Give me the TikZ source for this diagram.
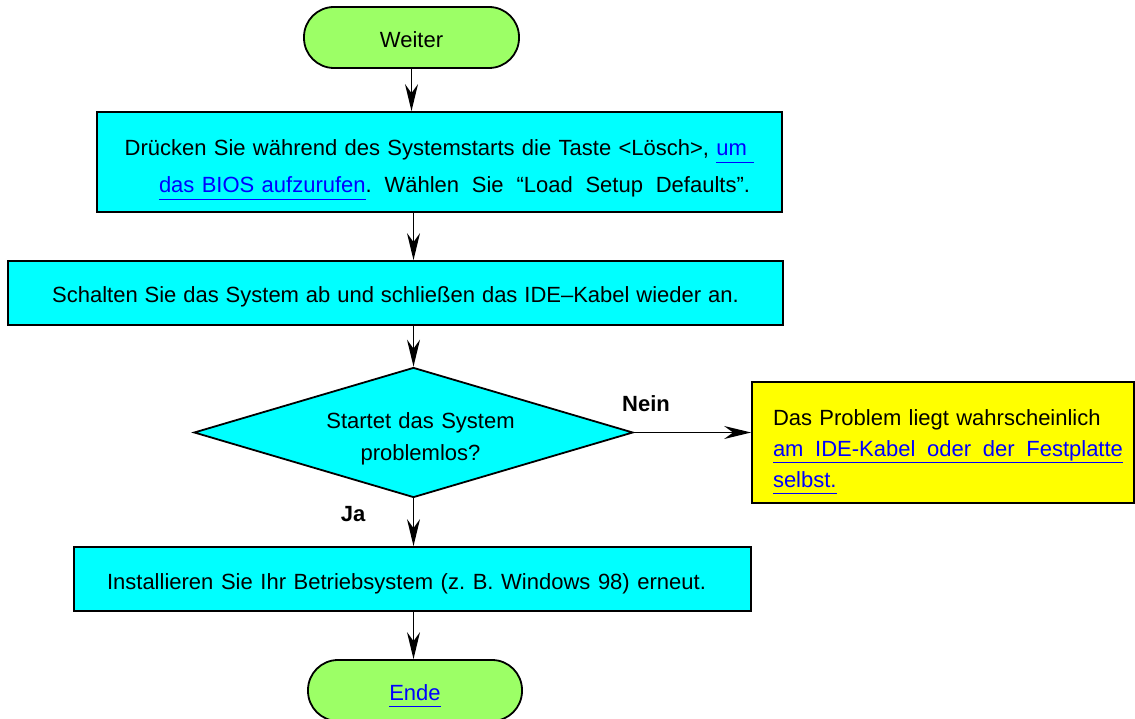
\documentclass[tikz,border=0pt]{standalone}
\usepackage{fontspec}
\setmainfont{Liberation Sans}
\usetikzlibrary{shapes.geometric,arrows.meta}
\definecolor{termgreen}{HTML}{9CFF66}
\definecolor{boxcyan}{HTML}{00FFFF}
\definecolor{noteyellow}{HTML}{FFFF00}
\definecolor{linkblue}{HTML}{0000FF}
\newcommand\lnk[1]{{\color{linkblue}\underline{#1\rule[-0.2em]{0pt}{0.2em}}}}
\frenchspacing
\tikzset{
  base/.style={draw=black, line width=1.8pt, inner sep=0pt, font=\fontsize{22}{26}\selectfont},
  term/.style={base, fill=termgreen, rounded corners=30pt, text height=20pt, text depth=0pt},
  stepbox/.style={base, fill=boxcyan, rectangle},
  oneline/.style={text height=20pt, text depth=0pt},
  decision/.style={base, fill=boxcyan, diamond, shape aspect=3.377},
  notebox/.style={base, fill=noteyellow, rectangle},
  lab/.style={font=\fontsize{22}{26}\selectfont\bfseries, inner sep=0pt},
  arr/.style={line width=1.5pt, -{Stealth[length=27pt,width=13pt,inset=9pt]}}
}
\begin{document}
\begin{tikzpicture}[x=1pt,y=-1pt]
\useasboundingbox (0,0) rectangle (1135,719);
\node[term, minimum width=215pt, minimum height=61pt] (weiter) at (411.5,37.5) {Weiter};
\node[stepbox, minimum width=685pt, minimum height=100pt, text width=660pt, align=center,
      font=\fontsize{22}{37}\selectfont, text height=15pt, text depth=27pt] (box1) at (439.5,162)
  {Drücken Sie während des Systemstarts die Taste <Lösch>, \lnk{um }\\
   \leavevmode\hspace*{30pt}\hbox to 591pt{\lnk{das BIOS aufzurufen}.\hfil{} Wählen\hfil{} Sie\hfil{} “Load\hfil{} Setup\hfil{} Defaults”.}};
\node[stepbox, oneline, minimum width=775pt, minimum height=64pt] (box2) at (395.5,293)
  {\hbox spread 8pt{Schalten Sie das System ab und schließen das IDE–Kabel wieder an.}};
\node[decision, minimum width=439pt, minimum height=130pt, text width=220pt, align=center,
      font=\fontsize{22}{32}\selectfont, text height=15pt, text depth=24pt] (dia) at (413.5,432.5)
  {\hspace*{14pt}Startet das System\\ \hspace*{14pt}problemlos?};
\node[notebox, minimum width=382pt, minimum height=121pt, text width=360pt, align=left,
      font=\fontsize{22}{31}\selectfont, text height=15pt, text depth=50pt] (note) at (943,442.5)
  {\hspace*{10pt}Das Problem liegt wahrscheinlich\\
   \hspace*{10pt}\lnk{\hbox to 350pt{am\hfill IDE-Kabel\hfill oder\hfill der\hfill Festplatte}}\\
   \hspace*{10pt}\lnk{selbst.}};
\node[stepbox, oneline, minimum width=677pt, minimum height=64pt] (box3) at (412.5,579)
  {\hbox spread 12pt{Installieren Sie Ihr Betriebsystem (z. B. Windows 98) erneut.}\hspace*{12pt}};
\node[term, minimum width=214pt, minimum height=61pt] (ende) at (415,690.5) {\lnk{Ende}};
\node[lab] (nein) at (646,404) {Nein};
\node[lab] (ja) at (353,514) {Ja};
\draw[arr] (weiter) -- (weiter |- box1.north);
\draw[arr] (box1.south -| dia) -- (dia |- box2.north);
\draw[arr] (box2.south -| dia) -- (dia.north);
\draw[arr] (dia.south) -- (dia |- box3.north);
\draw[arr] (box3.south -| dia) -- (dia |- ende.north);
\draw[arr] (dia.east) -- (dia.east -| note.west);
\end{tikzpicture}
\end{document}
